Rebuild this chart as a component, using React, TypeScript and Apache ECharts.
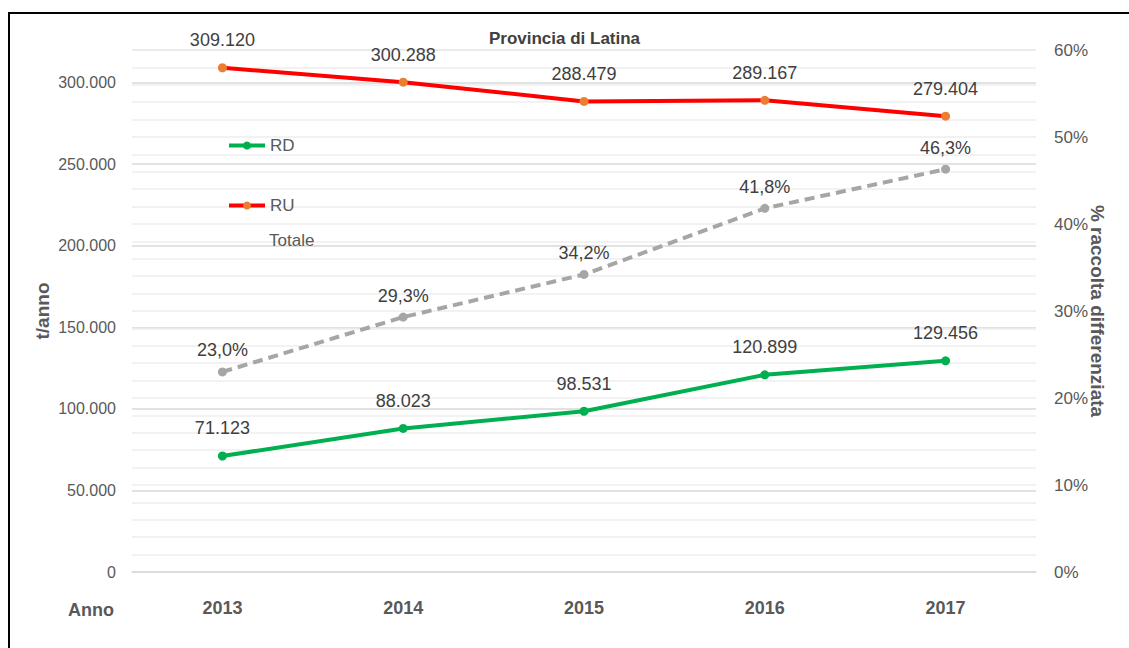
import React, { useEffect, useRef } from "react";
import * as echarts from "echarts";

const years = ["2013", "2014", "2015", "2016", "2017"];
const ruValues = [309120, 300288, 288479, 289167, 279404];
const rdValues = [71123, 88023, 98531, 120899, 129456];
const totalePct = [23.0, 29.3, 34.2, 41.8, 46.3];
const leftTicks = [0, 50000, 100000, 150000, 200000, 250000, 300000];
const rightTicks = [0, 10, 20, 30, 40, 50, 60];

const FONT = "'Liberation Sans Narrow', 'Liberation Sans', Arial, sans-serif";

function fmtThousands(v: number): string {
  const s = Math.round(v).toString();
  return s.replace(/\B(?=(\d{3})+(?!\d))/g, ".");
}

export default function App() {
  const ref = useRef<HTMLDivElement>(null);
  useEffect(() => {
    if (!ref.current) return;
    const chart = echarts.init(ref.current, null, { renderer: "svg" });
    chart.setOption({
      animation: false,
      backgroundColor: "#ffffff",
      textStyle: { fontFamily: FONT },
      title: {
        text: "Provincia di Latina",
        left: "center",
        top: 25,
        textStyle: { fontFamily: FONT, fontSize: 17, fontWeight: "bold", color: "#404040" },
      },
      legend: [
        {
          orient: "vertical",
          left: 227,
          top: 137,
          padding: 0,
          itemWidth: 36,
          itemHeight: 10,
          itemGap: 43,
          data: [
            { name: "RD", lineStyle: { width: 4 } },
            { name: "RU", lineStyle: { width: 4 } },
          ],
          textStyle: { fontFamily: FONT, fontSize: 17, color: "#595959" },
        },
        {
          orient: "vertical",
          left: 227,
          top: 232,
          padding: 0,
          itemWidth: 36,
          itemHeight: 10,
          data: [
            { name: "Totale", itemStyle: { opacity: 0 }, lineStyle: { opacity: 0 } },
          ],
          textStyle: { fontFamily: FONT, fontSize: 17, color: "#595959" },
        },
      ],
      grid: { left: 132, right: 93, top: 50, bottom: 76, containLabel: false },
      xAxis: {
        type: "category",
        data: years,
        boundaryGap: true,
        axisLine: { show: true, lineStyle: { color: "#d9d9d9", width: 1.5 } },
        axisTick: { show: false },
        axisLabel: {
          margin: 27,
          fontFamily: FONT,
          fontSize: 18,
          fontWeight: "bold",
          color: "#595959",
        },
      },
      yAxis: [
        {
          type: "value",
          min: 0,
          max: 320000,
          interval: 50000,
          name: "t/anno",
          nameLocation: "middle",
          nameGap: 80,
          nameMoveOverlap: false,
          nameTextStyle: { fontFamily: FONT, fontSize: 19, fontWeight: "bold", color: "#595959" },
          axisLine: { show: false },
          axisTick: { show: false },
          axisLabel: {
            margin: 16,
            fontFamily: FONT,
            fontSize: 16,
            color: "#595959",
            showMaxLabel: false,
            formatter: (v: number) => (leftTicks.indexOf(v) >= 0 ? fmtThousands(v) : ""),
          },
          splitLine: { show: true, lineStyle: { color: "#d9d9d9", width: 1.5 } },
        },
        {
          type: "value",
          min: 0,
          max: 60,
          interval: 10,
          name: "% raccolta differenziata",
          nameLocation: "middle",
          nameGap: 52,
          nameMoveOverlap: false,
          nameRotate: -90,
          nameTextStyle: { fontFamily: FONT, fontSize: 19, fontWeight: "bold", color: "#595959" },
          axisLine: { show: false },
          axisTick: { show: false },
          axisLabel: {
            margin: 18,
            fontFamily: FONT,
            fontSize: 17,
            color: "#595959",
            formatter: (v: number) => (rightTicks.indexOf(v) >= 0 ? v + "%" : ""),
          },
          splitLine: { show: true, lineStyle: { color: "#eeeeee", width: 1.5 } },
          minorTick: { show: false, splitNumber: 5 },
          minorSplitLine: { show: true, lineStyle: { color: "#eeeeee", width: 1.5 } },
        },
      ],
      series: [
        {
          name: "RD",
          type: "line",
          yAxisIndex: 0,
          data: rdValues,
          symbol: "circle",
          symbolSize: 9,
          lineStyle: { color: "#00b050", width: 4 },
          itemStyle: { color: "#00b050" },
          label: {
            show: true,
            position: "top",
            distance: 14,
            fontFamily: FONT,
            fontSize: 18,
            color: "#404040",
            formatter: (p: any) => fmtThousands(p.value),
          },
          z: 3,
        },
        {
          name: "RU",
          type: "line",
          yAxisIndex: 0,
          data: ruValues,
          symbol: "circle",
          symbolSize: 9,
          lineStyle: { color: "#ff0000", width: 4 },
          itemStyle: { color: "#ed7d31" },
          label: {
            show: true,
            position: "top",
            distance: 14,
            fontFamily: FONT,
            fontSize: 18,
            color: "#404040",
            formatter: (p: any) => fmtThousands(p.value),
          },
          z: 3,
        },
        {
          name: "Totale",
          type: "line",
          yAxisIndex: 1,
          data: totalePct,
          symbol: "circle",
          symbolSize: 9,
          lineStyle: { color: "#a6a6a6", width: 4, type: [10, 6] },
          itemStyle: { color: "#a6a6a6" },
          label: {
            show: true,
            position: "top",
            distance: 8,
            fontFamily: FONT,
            fontSize: 18,
            color: "#404040",
            formatter: (p: any) => p.value.toFixed(1).replace(".", ",") + "%",
          },
          z: 2,
        },
      ],
      graphic: [
        {
          type: "line",
          shape: { x1: 9, y1: 12, x2: 9, y2: 648 },
          style: { stroke: "#000000", lineWidth: 2 },
          silent: true,
        },
        {
          type: "line",
          shape: { x1: 8, y1: 13, x2: 1129, y2: 13 },
          style: { stroke: "#000000", lineWidth: 2 },
          silent: true,
        },
        {
          type: "text",
          left: 68,
          top: 601,
          style: {
            text: "Anno",
            fontFamily: FONT,
            fontSize: 18,
            fontWeight: "bold",
            fill: "#595959",
          },
        },
      ],
    });
    return () => chart.dispose();
  }, []);
  return (
    <div
      ref={ref}
      style={{ position: "fixed", left: 0, top: 0, width: 1129, height: 648 }}
    />
  );
}
